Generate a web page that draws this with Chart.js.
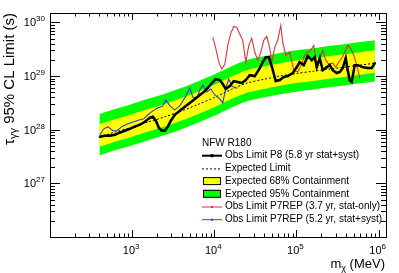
<!DOCTYPE html>
<html>
<head>
<meta charset="utf-8">
<script src="https://cdn.jsdelivr.net/npm/chart.js@4.4.0/dist/chart.umd.min.js"></script>
<style>
  html, body { margin: 0; padding: 0; background: #fff; }
  #c { display: block; }
</style>
</head>
<body>
<canvas id="c" width="399" height="273"></canvas>
<script>
// values: mass in MeV, lifetime limit in s
var expMass = [400, 630, 1000, 1600, 2500, 4000, 6300, 10000, 16000, 25000, 40000, 63000, 100000, 160000, 250000, 400000, 630000, 900000];
var expMedian = [7.24e27, 9.12e27, 1.12e28, 1.41e28, 1.74e28, 2.24e28, 2.95e28, 3.98e28, 5.62e28, 7.41e28, 8.71e28, 1.00e29, 1.12e29, 1.23e29, 1.35e29, 1.48e29, 1.62e29, 1.74e29];
var band68Hi = [1.26e28, 1.58e28, 1.95e28, 2.45e28, 3.02e28, 3.89e28, 5.13e28, 6.92e28, 9.77e28, 1.29e29, 1.51e29, 1.74e29, 1.95e29, 2.14e29, 2.34e29, 2.57e29, 2.82e29, 3.02e29];
var band68Lo = [4.79e27, 6.03e27, 7.41e27, 9.33e27, 1.15e28, 1.48e28, 1.95e28, 2.63e28, 3.72e28, 4.90e28, 5.75e28, 6.61e28, 7.41e28, 8.13e28, 8.91e28, 9.77e28, 1.07e29, 1.15e29];
var band95Hi = [1.95e28, 2.45e28, 3.02e28, 3.80e28, 4.68e28, 6.03e28, 7.94e28, 1.07e29, 1.51e29, 2.00e29, 2.34e29, 2.69e29, 3.02e29, 3.31e29, 3.63e29, 3.98e29, 4.37e29, 4.68e29];
var band95Lo = [3.31e27, 4.17e27, 5.13e27, 6.46e27, 7.94e27, 1.02e28, 1.35e28, 1.82e28, 2.57e28, 3.39e28, 3.98e28, 4.57e28, 5.13e28, 5.62e28, 6.17e28, 6.76e28, 7.41e28, 7.94e28];

// observed P8 limit
var obsMass = [405, 466, 536, 617, 708, 815, 938, 1079, 1242, 1429, 1641, 1786, 1941, 2113, 2296, 2500, 2716, 2958, 3304, 3802,
  4375, 5035, 5794, 6668, 7447, 8337, 9333, 10420, 11670, 12680, 13800, 15420, 17260, 19320, 21580, 24150, 27040, 31120, 35810, 38900,
  42360, 46030, 50000, 55980, 62660, 69980, 78340, 90160, 100900, 109600, 122700, 137400, 153500, 167100, 176600, 192300, 208900, 233900, 254100, 276700,
  309000, 336500, 365600, 398100, 420700, 444600, 471000, 511700, 557200, 641200, 736200, 824100, 897500];
var obsLimit = [7.41e27, 7.74e27, 7.74e27, 8.07e27, 8.80e27, 9.58e27, 1.04e28, 1.14e28, 1.24e28, 1.41e28, 1.67e28, 1.74e28, 1.47e28, 1.09e28, 9.58e27, 9.58e27, 1.14e28, 1.47e28, 1.90e28, 2.25e28,
  2.67e28, 3.16e28, 3.75e28, 4.45e28, 5.06e28, 6.00e28, 7.41e28, 8.80e28, 8.43e28, 7.11e28, 5.74e28, 6.53e28, 8.07e28, 7.74e28, 7.41e28, 8.43e28, 1.04e29, 1.00e29, 1.41e29, 1.82e29,
  2.25e29, 2.25e29, 1.53e29, 8.07e28, 8.43e28, 9.58e28, 1.00e29, 1.14e29, 1.47e29, 1.82e29, 1.60e29, 2.35e29, 1.98e29, 2.25e29, 1.47e29, 2.15e29, 1.29e29, 1.47e29, 1.60e29, 1.29e29,
  1.14e29, 1.19e29, 1.41e29, 2.15e29, 1.29e29, 8.43e28, 7.74e28, 1.60e29, 1.60e29, 1.47e29, 1.41e29, 1.41e29, 1.74e29];

// P7REP 3.7 yr stat-only
var p7StatMass = [9594, 10420, 11350, 12330, 13430, 14590, 15880, 17260, 18790, 20420, 22230, 24150, 26300, 28580, 31120, 33810, 36810, 39990, 43550, 47320,
  50000, 54450, 59160, 64420, 68080, 74130, 82990, 92680, 103700, 115900, 126200, 137400, 149300, 162600, 176600, 192300, 208900, 227500, 247200, 276700,
  300600, 327300, 355600, 387300, 420700, 458100, 497700, 542000, 588800];
var p7StatLimit = [5.28e29, 3.30e29, 1.82e29, 1.35e29, 1.67e29, 3.75e29, 6.25e29, 8.43e29, 8.07e29, 6.00e29, 4.64e29, 1.82e29, 3.75e29, 5.06e29, 2.78e29, 1.98e29, 2.78e29, 4.64e29, 5.51e29, 3.30e29,
  1.82e29, 3.44e29, 4.64e29, 8.80e29, 4.26e29, 2.45e29, 2.78e29, 1.29e29, 1.19e29, 1.67e29, 2.45e29, 2.78e29, 3.03e29, 3.75e29, 1.53e29, 2.15e29, 3.03e29, 1.98e29, 1.67e29, 1.74e29,
  1.47e29, 1.82e29, 2.15e29, 2.78e29, 3.75e29, 3.30e29, 2.45e29, 1.60e29, 9.18e28];

// P7REP 5.2 yr stat+syst
var p7SystMass = [405, 453, 506, 582, 651, 750, 887, 1050, 1242, 1388, 1552, 1786, 2055, 2362, 2570, 2875, 3304, 3802, 4375, 5035,
  5470, 6124, 6668, 7244, 8110, 9057, 10140, 11350, 12680, 13800, 15000, 16330, 18270, 19320];
var p7SystLimit = [8.07e27, 1.04e28, 1.14e28, 9.58e27, 9.58e27, 1.14e28, 1.29e28, 1.41e28, 1.53e28, 1.60e28, 1.90e28, 2.25e28, 2.55e28, 2.78e28, 3.59e28, 2.78e28, 2.35e28, 2.78e28, 3.91e28, 6.00e28,
  4.08e28, 3.91e28, 5.51e28, 6.81e28, 5.06e28, 5.74e28, 4.45e28, 3.91e28, 3.16e28, 6.00e28, 8.80e28, 6.53e28, 6.00e28, 6.00e28];

// decades that carry a label (10^n)
var xLabelDecades = [3, 4, 5, 6];
var yLabelDecades = [27, 28, 29, 30];

var legendHeader = "NFW R180";
var legendLabels = [
  "Obs Limit P8 (5.8 yr stat+syst)",
  "Expected Limit",
  "Expected 68% Containment",
  "Expected 95% Containment",
  "Obs Limit P7REP (3.7 yr, stat-only)",
  "Obs Limit P7REP (5.2 yr, stat+syst)"
];

var FONT = "'Liberation Sans', Arial, Helvetica, sans-serif";
var GREEN = "#00ff00", YELLOW = "#ffff00", RED = "#dd3535", BLUE = "#3838dd";

function pts(xs, ys) {
    return xs.map(function (x, i) { return {x: x, y: ys[i]}; });
}

/* "10" with a raised exponent; align is "center" or "right" */
function drawPower(ctx, e, x, y, align) {
    ctx.font = "11px " + FONT;
    var w1 = ctx.measureText("10").width;
    ctx.font = "8px " + FONT;
    var w2 = ctx.measureText(String(e)).width;
    var left = align === "right" ? x - w1 - w2 : x - (w1 + w2) / 2;
    ctx.font = "11px " + FONT;
    ctx.fillText("10", left, y);
    ctx.font = "8px " + FONT;
    ctx.fillText(String(e), left + w1, y - 5);
}

/* ROOT style frame with ticks pointing inwards on all four sides */
var rootFrame = {
    id: "rootFrame",
    afterDraw: function (chart) {
        var ctx = chart.ctx, a = chart.chartArea;
        var xs = chart.scales.x, ys = chart.scales.y;
        ctx.save();
        ctx.strokeStyle = "#000";
        ctx.lineWidth = 1;
        ctx.strokeRect(Math.round(a.left) + 0.5, Math.round(a.top) + 0.5,
            Math.round(a.right - a.left), Math.round(a.bottom - a.top));
        ctx.beginPath();
        for (var e = 2; e <= 6; e++) {
            for (var k = 1; k <= 9; k++) {
                var v = k * Math.pow(10, e);
                if (v < xs.min || v > xs.max) continue;
                var px = Math.round(xs.getPixelForValue(v)) + 0.5;
                var len = k === 1 ? 7 : 3.5;
                ctx.moveTo(px, a.bottom); ctx.lineTo(px, a.bottom - len);
                ctx.moveTo(px, a.top); ctx.lineTo(px, a.top + len);
            }
        }
        for (var ey = 26; ey <= 30; ey++) {
            for (var ky = 1; ky <= 9; ky++) {
                var vy = ky * Math.pow(10, ey);
                if (vy < ys.min || vy > ys.max) continue;
                var py = Math.round(ys.getPixelForValue(vy)) + 0.5;
                var leny = ky === 1 ? 10 : 5;
                ctx.moveTo(a.left, py); ctx.lineTo(a.left + leny, py);
                ctx.moveTo(a.right, py); ctx.lineTo(a.right - leny, py);
            }
        }
        ctx.stroke();

        // decade labels, placed through the scales
        ctx.fillStyle = "#000";
        ctx.textAlign = "left";
        ctx.textBaseline = "alphabetic";
        xLabelDecades.forEach(function (d) {
            drawPower(ctx, d, xs.getPixelForValue(Math.pow(10, d)) - 1, 254, "center");
        });
        yLabelDecades.forEach(function (d) {
            drawPower(ctx, d, 45, ys.getPixelForValue(Math.pow(10, d)) + 4, "right");
        });
        ctx.restore();
    }
};

/* axis titles with sub-scripts */
var axisTitles = {
    id: "axisTitles",
    afterDraw: function (chart) {
        var ctx = chart.ctx;
        var big = "15px " + FONT, small = "11px " + FONT;
        ctx.save();
        ctx.fillStyle = "#000";
        ctx.textAlign = "left";
        ctx.textBaseline = "alphabetic";

        // y title, rotated, aligned to the top end of the axis
        var rest = " 95% CL Limit (s)";
        ctx.font = big;
        var w1 = ctx.measureText("τ").width, w3 = ctx.measureText(rest).width;
        ctx.font = small;
        var w2 = ctx.measureText("γγ").width;
        ctx.translate(14, 13);
        ctx.rotate(-Math.PI / 2);
        var u = -(w1 + w2 + w3);
        ctx.font = big; ctx.fillText("τ", u, 0); u += w1;
        ctx.font = small; ctx.fillText("γγ", u, 3); u += w2;
        ctx.font = big; ctx.fillText(rest, u, 0);
        ctx.setTransform(1, 0, 0, 1, 0, 0);

        // x title, right aligned
        var xr = " (MeV)";
        var bx = "13px " + FONT, sx = "9px " + FONT;
        ctx.font = bx;
        var m1 = ctx.measureText("m").width, m3 = ctx.measureText(xr).width;
        ctx.font = sx;
        var m2 = ctx.measureText("χ").width;
        var x = 385 - (m1 + m2 + m3);
        ctx.font = bx; ctx.fillText("m", x, 268); x += m1;
        ctx.font = sx; ctx.fillText("χ", x, 271); x += m2;
        ctx.font = bx; ctx.fillText(xr, x, 268);
        ctx.restore();
    }
};

/* legend in the lower right */
var rootLegend = {
    id: "rootLegend",
    afterDraw: function (chart) {
        var ctx = chart.ctx;
        var x0 = 202, x1 = 222, tx = 225, y0 = 143, dy = 12.7;
        ctx.save();
        ctx.font = "10px " + FONT;
        ctx.fillStyle = "#000";
        ctx.textBaseline = "middle";
        ctx.textAlign = "left";
        ctx.fillText(legendHeader, x0, y0);

        for (var i = 0; i < legendLabels.length; i++) {
            var y = y0 + (i + 1) * dy;
            ctx.fillStyle = "#000";
            ctx.fillText(legendLabels[i], tx, y);
            ctx.setLineDash([]);
            if (i === 0) {
                ctx.strokeStyle = "#000"; ctx.lineWidth = 2;
                ctx.beginPath(); ctx.moveTo(x0, y); ctx.lineTo(x1, y); ctx.stroke();
                ctx.fillRect((x0 + x1) / 2 - 1.5, y - 1.5, 3, 3);
            } else if (i === 1) {
                ctx.strokeStyle = "#000"; ctx.lineWidth = 1;
                ctx.setLineDash([2, 2]);
                ctx.beginPath(); ctx.moveTo(x0, y + 0.5); ctx.lineTo(x1, y + 0.5); ctx.stroke();
            } else if (i === 2 || i === 3) {
                ctx.fillStyle = i === 2 ? YELLOW : GREEN;
                ctx.fillRect(x0 + 1, y - 4, x1 - x0 - 2, 8);
                ctx.strokeStyle = "#000"; ctx.lineWidth = 1;
                ctx.strokeRect(x0 + 1.5, y - 3.5, x1 - x0 - 3, 7);
            } else {
                var col = i === 4 ? RED : BLUE;
                ctx.strokeStyle = col; ctx.lineWidth = 1;
                ctx.beginPath(); ctx.moveTo(x0, y + 0.5); ctx.lineTo(x1, y + 0.5); ctx.stroke();
                ctx.fillStyle = col;
                ctx.fillRect((x0 + x1) / 2 - 1, y - 0.5, 2, 2);
            }
        }
        ctx.restore();
    }
};

var clear = "rgba(0,0,0,0)";

var datasets = [
    {data: pts(expMass, band95Hi), fill: 1, backgroundColor: GREEN, borderColor: clear, borderWidth: 0, pointRadius: 0, tension: 0.3, order: 6},
    {data: pts(expMass, band95Lo), fill: false, borderColor: clear, borderWidth: 0, pointRadius: 0, tension: 0.3, order: 6},
    {data: pts(expMass, band68Hi), fill: 3, backgroundColor: YELLOW, borderColor: clear, borderWidth: 0, pointRadius: 0, tension: 0.3, order: 5},
    {data: pts(expMass, band68Lo), fill: false, borderColor: clear, borderWidth: 0, pointRadius: 0, tension: 0.3, order: 5},
    {data: pts(expMass, expMedian), fill: false, borderColor: "#000", borderWidth: 1, borderDash: [2, 2], pointRadius: 0, tension: 0.3, order: 4},
    {data: pts(p7SystMass, p7SystLimit), fill: false, borderColor: BLUE, borderWidth: 1.1, pointRadius: 0, order: 3},
    {data: pts(p7StatMass, p7StatLimit), fill: false, borderColor: RED, borderWidth: 1.1, pointRadius: 0, order: 2},
    {data: pts(obsMass, obsLimit), fill: false, borderColor: "#000", backgroundColor: "#000", borderWidth: 2.5,
        pointStyle: "rect", pointRadius: 1.5, pointBorderWidth: 0, order: 1}
];

new Chart(document.getElementById("c"), {
    type: "line",
    data: {datasets: datasets},
    options: {
        responsive: false,
        animation: false,
        devicePixelRatio: 1,
        layout: {padding: {top: 13, right: 13, left: 0, bottom: 0}},
        plugins: {legend: {display: false}, tooltip: {enabled: false}},
        scales: {
            x: {
                type: "logarithmic",
                min: 100,
                max: 1.23e6,
                grid: {display: false, drawTicks: false},
                border: {display: false},
                ticks: {display: false},
                afterFit: function (scale) { scale.height = 36; }
            },
            y: {
                type: "logarithmic",
                min: 1e26,
                max: 1.5e30,
                grid: {display: false, drawTicks: false},
                border: {display: false},
                ticks: {display: false},
                afterFit: function (scale) { scale.width = 50; }
            }
        }
    },
    plugins: [rootFrame, axisTitles, rootLegend]
});
</script>
</body>
</html>
